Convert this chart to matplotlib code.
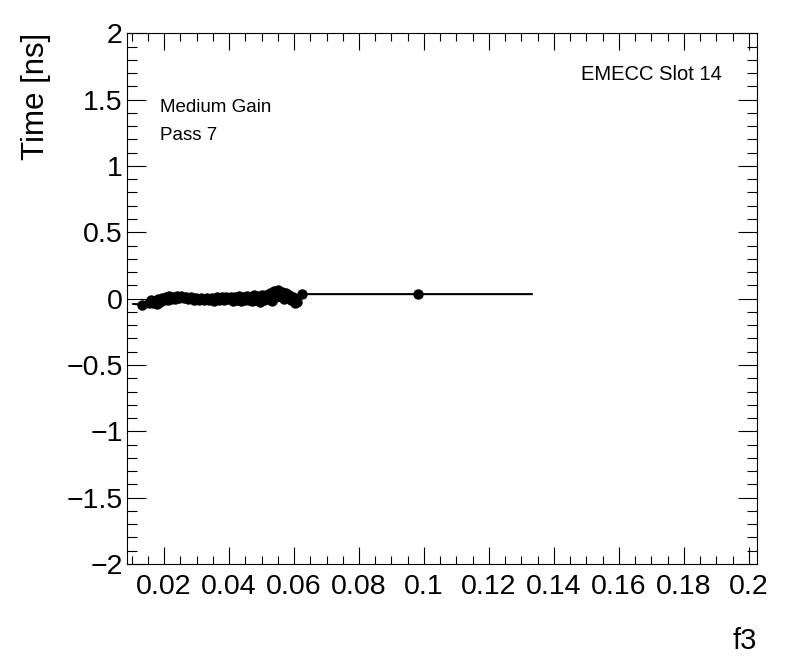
import matplotlib
matplotlib.use("Agg")
import matplotlib.pyplot as plt
from matplotlib.ticker import MultipleLocator

plt.rcParams['font.family'] = ['Liberation Sans', 'DejaVu Sans']

# points (f3, time)
f3 = [0.0132, 0.0155, 0.0160, 0.0166, 0.0171, 0.0177, 0.0182, 0.0188, 0.0193, 0.0199,
      0.0205, 0.0211, 0.0216, 0.0222, 0.0228, 0.0234, 0.0240, 0.0247, 0.0253, 0.0260,
      0.0268, 0.0275, 0.0283, 0.0291, 0.0299, 0.0307, 0.0315, 0.0323, 0.0331, 0.0339,
      0.0347, 0.0355, 0.0362, 0.0370, 0.0377, 0.0384, 0.0391, 0.0398, 0.0405, 0.0411,
      0.0418, 0.0424, 0.0430, 0.0436, 0.0442, 0.0448, 0.0454, 0.0460, 0.0466, 0.0472,
      0.0478, 0.0484, 0.0490, 0.0496, 0.0502, 0.0508, 0.0514, 0.0520, 0.0526, 0.0532,
      0.0538, 0.0544, 0.0550, 0.0556, 0.0562, 0.0568, 0.0574, 0.0580, 0.0586, 0.0592,
      0.0598, 0.0603, 0.0608, 0.0625, 0.0982]
tempo = [-0.045, -0.030, -0.010, -0.035, -0.015, -0.040, -0.005, -0.025, 0.008, -0.012,
         0.012, -0.008, 0.018, 0.000, 0.015, -0.006, 0.018, 0.002, 0.020, 0.004,
         0.015, -0.002, 0.010, -0.008, 0.008, -0.010, 0.006, -0.012, 0.004, -0.010,
         0.008, -0.015, 0.010, -0.008, 0.014, -0.014, 0.012, -0.006, 0.016, -0.016,
         0.014, -0.008, 0.020, -0.018, 0.012, -0.014, 0.022, -0.010, 0.016, -0.020,
         0.024, -0.008, 0.018, -0.022, 0.026, -0.012, 0.030, 0.000, 0.045, -0.015,
         0.055, 0.010, 0.065, 0.020, 0.050, 0.000, 0.040, 0.010, 0.028, -0.012,
         0.010, -0.035, -0.022, 0.034, 0.034]

# extremos da curva
curva_inicio = (0.0105, -0.040)
curva_fim = (0.1332, 0.034)

fig = plt.figure(figsize=(7.96, 6.72), dpi=100)
ax = fig.add_axes([0.1596, 0.1607, 0.7914, 0.7898])

linha_x = [curva_inicio[0]] + f3 + [curva_fim[0]]
linha_y = [curva_inicio[1]] + tempo + [curva_fim[1]]
ax.plot(linha_x, linha_y, color='black', lw=1.5, zorder=2)
ax.plot(f3, tempo, 'o', color='black', ms=7.5, mew=0, zorder=3)

ax.set_xlim(0.0086, 0.2025)
ax.set_ylim(-2, 2)

ax.xaxis.set_major_locator(MultipleLocator(0.02))
ax.xaxis.set_minor_locator(MultipleLocator(0.005))
ax.yaxis.set_major_locator(MultipleLocator(0.5))
ax.yaxis.set_minor_locator(MultipleLocator(0.1))
ax.set_xticks([0.02, 0.04, 0.06, 0.08, 0.1, 0.12, 0.14, 0.16, 0.18, 0.2])
ax.set_xticklabels(['0.02', '0.04', '0.06', '0.08', '0.1', '0.12', '0.14', '0.16', '0.18', '0.2'])
ax.set_yticks([-2, -1.5, -1, -0.5, 0, 0.5, 1, 1.5, 2])
ax.set_yticklabels(['\u22122', '\u22121.5', '\u22121', '\u22120.5', '0', '0.5', '1', '1.5', '2'])

ax.tick_params(which='both', direction='in', top=True, right=True, width=0.8,
               labelsize=20.5, colors='black')
ax.tick_params(axis='x', which='major', length=12, pad=7)
ax.tick_params(axis='x', which='minor', length=6)
ax.tick_params(axis='y', which='major', length=14, pad=3)
ax.tick_params(axis='y', which='minor', length=7)
for s in ax.spines.values():
    s.set_linewidth(0.8)

fig.text(0.951, 0.025, 'f3', ha='right', va='bottom', fontsize=21)
fig.text(0.027, 0.951, 'Time [ns]', ha='left', va='top', rotation=90, fontsize=22.5)

ax.text(160 / 796, 1 - 107 / 672, 'Medium Gain', transform=fig.transFigure,
        ha='left', va='center', fontsize=13.5)
ax.text(160 / 796, 1 - 136 / 672, 'Pass 7', transform=fig.transFigure,
        ha='left', va='center', fontsize=13.5)
ax.text(722 / 796, 1 - 74 / 672, 'EMECC Slot 14', transform=fig.transFigure,
        ha='right', va='center', fontsize=14.5)

fig.savefig('out.png', dpi=100)
